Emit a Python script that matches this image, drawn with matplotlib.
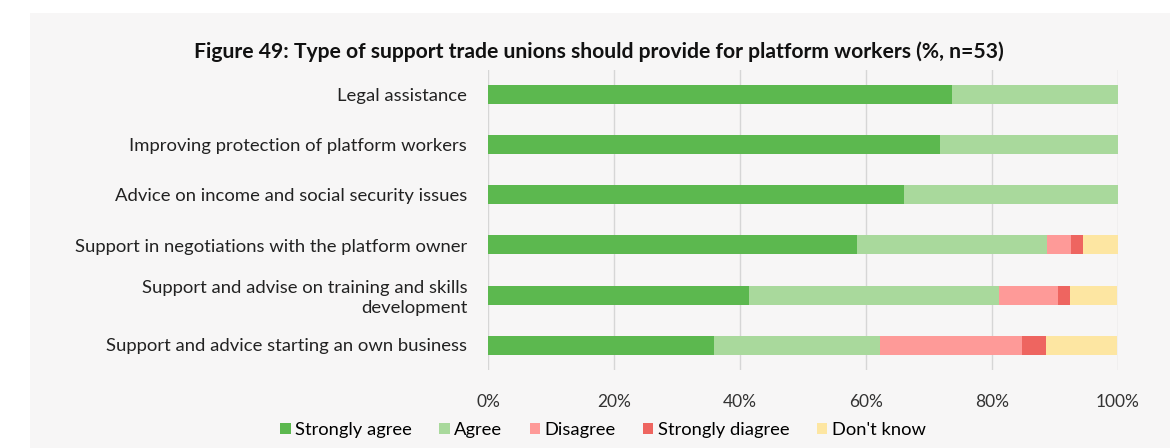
import matplotlib
matplotlib.use("Agg")
import matplotlib.pyplot as plt
from matplotlib.patches import Rectangle
import numpy as np

# survey answers, n=53, in %
categories = [
    "Legal assistance",
    "Improving protection of platform workers",
    "Advice on income and social security issues",
    "Support in negotiations with the platform owner",
    "Support and advise on training and skills\ndevelopment",
    "Support and advice starting an own business",
]
strongly_agree = [73.6, 71.7, 66.0, 58.5, 41.5, 35.8]
agree = [26.4, 28.3, 34.0, 30.2, 39.6, 26.4]
disagree = [0, 0, 0, 3.8, 9.4, 22.6]
strongly_disagree = [0, 0, 0, 1.9, 1.9, 3.8]
dont_know = [0, 0, 0, 5.7, 7.5, 11.3]

series_names = ["Strongly agree", "Agree", "Disagree", "Strongly diagree", "Don't know"]
colors = ["#5cb84f", "#a9d99c", "#fe9a98", "#ee6560", "#fde6a2"]
xticks = [0, 20, 40, 60, 80, 100]

plt.rcParams["font.family"] = ["Lato", "DejaVu Sans"]

fig = plt.figure(figsize=(11.7, 4.48), dpi=100)
fig.patch.set_facecolor("white")
fig.patches.append(Rectangle((30 / 1170, 0), 1, (448 - 13) / 448,
                             transform=fig.transFigure, facecolor="#f7f6f6",
                             edgecolor="none", zorder=-10))

ax = fig.add_axes([488 / 1170, 78 / 448, 630 / 1170, 300 / 448])
ax.set_facecolor("none")

y = np.arange(len(categories))
left = np.zeros(len(categories))
for name, vals, c in zip(series_names,
                         [strongly_agree, agree, disagree, strongly_disagree, dont_know],
                         colors):
    ax.barh(y, vals, left=left, height=0.38, color=c, label=name, zorder=3)
    left += np.array(vals)

ax.set_ylim(len(categories) - 0.5, -0.5)
ax.set_xlim(0, 100)
ax.set_yticks(y)
ax.set_yticklabels(categories, fontsize=13.3, color="#222222", linespacing=1.25)
ax.set_xticks(xticks)
ax.set_xticklabels([f"{t}%" for t in xticks], fontsize=12.5, color="#333333")
ax.tick_params(length=0)
ax.tick_params(axis="y", pad=15)
ax.tick_params(axis="x", pad=17)
ax.grid(axis="x", color="#d6d6d6", linewidth=1, zorder=0)
for s in ax.spines.values():
    s.set_visible(False)

fig.text(599 / 1170, 1 - 52 / 448,
         "Figure 49: Type of support trade unions should provide for platform workers (%, n=53)",
         ha="center", va="center", fontsize=15.2, fontweight="bold", color="#111111")

fig.legend(loc="center", bbox_to_anchor=(603 / 1170, 1 - 430 / 448), ncol=5,
           frameon=False, fontsize=13.2, handlelength=0.55, handleheight=0.55,
           handletextpad=0.25, columnspacing=1.5)

fig.savefig("out.png", dpi=100)
